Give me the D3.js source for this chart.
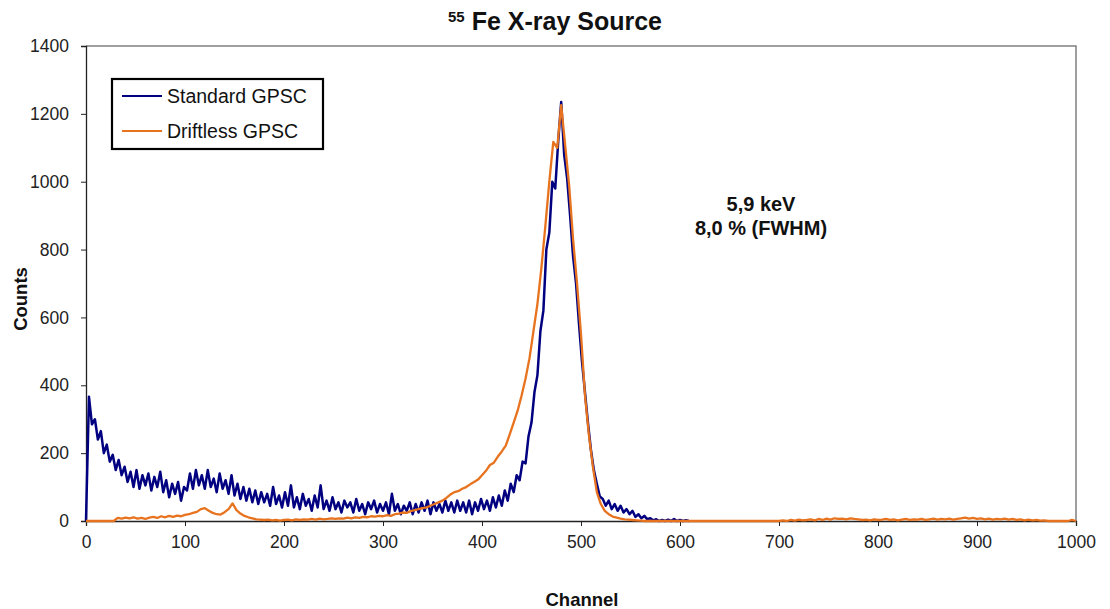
<!DOCTYPE html>
<html>
<head>
<meta charset="utf-8">
<script src="https://cdn.jsdelivr.net/npm/d3@7"></script>
<style>
  body { margin: 0; background: #fff; }
  text { font-family: "Liberation Sans", Arial, sans-serif; }
</style>
</head>
<body>
<svg id="chart" width="1110" height="609"></svg>
<script>
// --- data ---
var stdStep = 3;   // Standard GPSC sampled every 3 channels from 0
var stdCounts = [
  0, 366, 285, 300, 240, 265, 200, 225, 175, 195, 150, 180, 135, 160, 115, 145,
  100, 150, 95, 135, 105, 140, 90, 130, 100, 145, 85, 120, 70, 110, 80, 115,
  60, 100, 90, 140, 95, 150, 105, 135, 95, 150, 100, 125, 85, 140, 95, 120,
  80, 135, 75, 110, 65, 100, 60, 95, 55, 90, 50, 85, 55, 80, 45, 100,
  50, 75, 40, 85, 45, 105, 40, 70, 35, 80, 45, 65, 30, 75, 40, 105,
  35, 60, 30, 70, 35, 55, 25, 60, 40, 55, 25, 65, 30, 50, 20, 55,
  35, 60, 25, 50, 30, 55, 20, 80, 30, 50, 20, 45, 30, 55, 20, 50,
  25, 55, 30, 60, 20, 55, 30, 50, 25, 60, 30, 55, 25, 60, 30, 55,
  25, 60, 20, 55, 30, 65, 35, 60, 30, 70, 40, 75, 45, 90, 60, 110,
  85, 135, 120, 175, 170, 250, 290, 380, 430, 560, 620, 800, 850, 1000, 980, 1120,
  1235, 1080, 1010, 900, 780, 700, 580, 470, 380, 290, 210, 150, 110, 72, 65, 45,
  60, 35, 50, 30, 45, 25, 35, 20, 30, 12, 20, 8, 15, 5, 8, 2,
  5, 0, 3, 0, 4, 0, 6, 0, 3, 0, 2, 0
];

var drfStep = 4;   // Driftless GPSC sampled every 4 channels from 0
var drfCounts = [
  0, 0, 0, 0, 0, 0, 0, 0, 9, 7, 10, 8, 11, 7, 9, 6,
  10, 12, 9, 14, 11, 15, 12, 16, 14, 18, 20, 24, 27, 35, 38, 30,
  24, 20, 19, 26, 35, 52, 32, 22, 15, 11, 8, 5, 4, 3, 4, 2,
  3, 1, 3, 4, 2, 5, 3, 5, 4, 6, 4, 7, 5, 6, 8, 6,
  8, 7, 10, 8, 11, 9, 12, 11, 14, 13, 15, 14, 17, 15, 20, 22,
  25, 24, 29, 32, 35, 38, 40, 45, 50, 55, 60, 68, 78, 85, 88, 95,
  100, 108, 115, 122, 135, 148, 165, 172, 190, 205, 222, 255, 290, 325, 370, 420,
  480, 560, 640, 746, 870, 1000, 1117, 1100, 1226, 1108, 990, 830, 700, 550, 371, 253,
  160, 85, 50, 30, 20, 13, 10, 7, 5, 4, 3, 2, 1, 0, 0, 0,
  0, 0, 0, 0, 0, 0, 0, 0, 0, 0, 0, 0, 0, 0, 0, 0,
  0, 0, 0, 0, 0, 0, 0, 0, 0, 0, 0, 0, 0, 0, 0, 0,
  2, 0, 3, 1, 4, 2, 3, 5, 2, 6, 3, 7, 4, 8, 6, 7,
  5, 8, 6, 5, 3, 4, 2, 5, 3, 4, 6, 3, 5, 2, 4, 6,
  3, 5, 4, 6, 3, 5, 7, 4, 6, 5, 7, 4, 6, 8, 10, 7,
  9, 6, 8, 5, 7, 4, 6, 5, 7, 4, 6, 3, 5, 2, 4, 2,
  3, 1, 2, 0, 0, 0, 0, 0, 0, 3, 0
];

var seriesNames = ["Standard GPSC", "Driftless GPSC"];
var seriesColors = ["#000080", "#E8731E"];
var yTicks = [0, 200, 400, 600, 800, 1000, 1200, 1400];
var xTicks = [0, 100, 200, 300, 400, 500, 600, 700, 800, 900, 1000];

(function() {

    // --- layout ---
    var svg = d3.select("#chart"),
        plotL = 86, plotR = 1076, plotT = 46, plotB = 521;

    var x = d3.scaleLinear().domain([0, 1000]).range([plotL, plotR]);
    var y = d3.scaleLinear().domain([0, 1400]).range([plotB, plotT]);

    // frame (top and right in grey)
    svg.append("path")
        .attr("d", "M" + plotL + "," + plotT + "H" + plotR + "V" + plotB)
        .attr("fill", "none")
        .attr("stroke", "#808080")
        .attr("stroke-width", 1.5);

    var yAxis = svg.append("g")
        .attr("transform", "translate(" + plotL + ",0)")
        .call(d3.axisLeft(y).tickValues(yTicks).tickSize(5).tickPadding(12).tickFormat(d3.format("d")));

    var xAxis = svg.append("g")
        .attr("transform", "translate(0," + plotB + ")")
        .call(d3.axisBottom(x).tickValues(xTicks).tickSize(5).tickPadding(10).tickFormat(d3.format("d")));

    [yAxis, xAxis].forEach(function(a) {
        a.select(".domain").attr("stroke", "#222").attr("stroke-width", 1.3);
        a.selectAll(".tick line").attr("stroke", "#222");
        a.selectAll(".tick text")
            .attr("fill", "#222")
            .style("font-size", "17.5px")
            .style("font-family", "'Liberation Sans', Arial, sans-serif");
    });

    // --- lines ---
    var line = d3.line()
        .x(function(d) { return x(d[0]); })
        .y(function(d) { return y(d[1]); });

    var stdData = stdCounts.map(function(v, i) { return [i * stdStep, v]; });
    var drfData = drfCounts.map(function(v, i) { return [i * drfStep, v]; });

    svg.append("path")
        .datum(stdData)
        .attr("d", line)
        .attr("fill", "none")
        .attr("stroke", seriesColors[0])
        .attr("stroke-width", 2.5)
        .attr("stroke-linejoin", "round");

    svg.append("path")
        .datum(drfData)
        .attr("d", line)
        .attr("fill", "none")
        .attr("stroke", seriesColors[1])
        .attr("stroke-width", 2.3)
        .attr("stroke-linejoin", "round");

    // --- title ---
    var title = svg.append("text")
        .attr("x", 555)
        .attr("y", 30)
        .attr("text-anchor", "middle")
        .style("font-weight", "bold")
        .style("font-size", "25px")
        .attr("fill", "#111");
    title.append("tspan")
        .attr("dy", "-8")
        .style("font-size", "15px")
        .text("55");
    title.append("tspan")
        .attr("dy", "8")
        .text(" Fe X-ray Source");

    // axis titles
    svg.append("text")
        .attr("x", 582)
        .attr("y", 606)
        .attr("text-anchor", "middle")
        .style("font-weight", "bold")
        .style("font-size", "18.5px")
        .attr("fill", "#111")
        .text("Channel");

    svg.append("text")
        .attr("transform", "translate(27,299) rotate(-90)")
        .attr("text-anchor", "middle")
        .style("font-weight", "bold")
        .style("font-size", "18.5px")
        .attr("fill", "#111")
        .text("Counts");

    // annotation
    svg.append("text")
        .attr("x", 761)
        .attr("y", 211)
        .attr("text-anchor", "middle")
        .style("font-weight", "bold")
        .style("font-size", "20px")
        .attr("fill", "#111")
        .text("5,9 keV");
    svg.append("text")
        .attr("x", 761)
        .attr("y", 235)
        .attr("text-anchor", "middle")
        .style("font-weight", "bold")
        .style("font-size", "20px")
        .attr("fill", "#111")
        .text("8,0 % (FWHM)");

    // --- legend ---
    var legend = svg.append("g").attr("transform", "translate(112,79)");
    legend.append("rect")
        .attr("width", 211)
        .attr("height", 70)
        .attr("fill", "#fff")
        .attr("stroke", "#000")
        .attr("stroke-width", 2.2);

    var rows = legend.selectAll("g.row")
        .data(seriesNames)
        .enter().append("g")
        .attr("class", "row")
        .attr("transform", function(d, i) { return "translate(0," + (17 + i * 35) + ")"; });

    rows.append("line")
        .attr("x1", 10).attr("x2", 50)
        .attr("stroke", function(d, i) { return seriesColors[i]; })
        .attr("stroke-width", 2);

    rows.append("text")
        .attr("x", 55)
        .attr("dy", "0.36em")
        .style("font-size", "19.5px")
        .attr("fill", "#111")
        .text(function(d) { return d; });

})();
</script>
</body>
</html>
